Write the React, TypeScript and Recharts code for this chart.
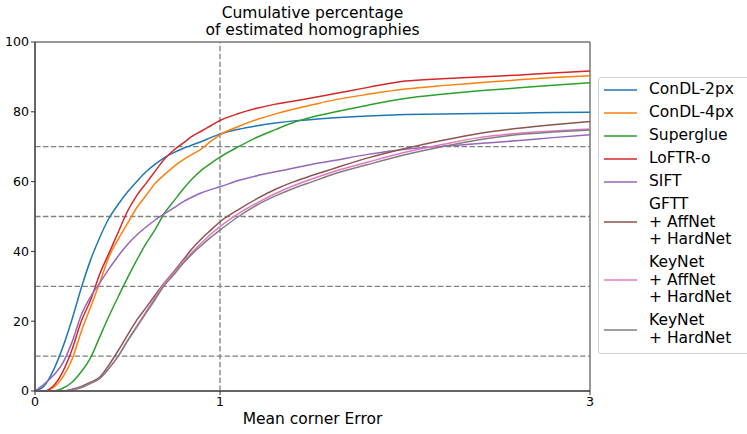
import React from 'react';
import { LineChart, Line, XAxis, YAxis, ReferenceLine, ReferenceArea } from 'recharts';

// mean corner error (x grid the curves were read at)
const ERR = [0, 0.05, 0.1, 0.15, 0.2, 0.25, 0.3, 0.35, 0.4, 0.45, 0.5, 0.55, 0.6, 0.65, 0.7, 0.75, 0.8, 0.85, 0.9, 0.95, 1.0, 1.1, 1.2, 1.3, 1.4, 1.5, 1.6, 1.8, 2.0, 2.2, 2.4, 2.6, 2.8, 3.0];

// cumulative % of homographies per method
const CONDL_2PX = [0, 1.5, 6, 12.5, 20.5, 29.5, 37.5, 44, 49.5, 53.5, 57, 60, 62.8, 65, 66.9, 68.3, 69.5, 70.5, 71.5, 72.6, 73.6, 75, 76, 76.8, 77.4, 77.8, 78.2, 78.8, 79.2, 79.4, 79.5, 79.6, 79.8, 79.9];
const CONDL_4PX = [0, 0, 1, 4, 9, 17, 24, 31, 38.5, 43.5, 48, 52.5, 56, 59.5, 62, 64.3, 66.2, 67.8, 69.4, 71.5, 73.4, 75.8, 77.8, 79.4, 80.8, 82, 83.2, 85, 86.5, 87.5, 88.3, 89.1, 89.8, 90.3];
const SUPERGLUE = [0, 0, 0, 0.8, 2.5, 5.5, 9.5, 15.5, 21.5, 27, 32.4, 37.5, 42.2, 46.3, 51, 54.4, 57.8, 60.8, 63.3, 65.2, 67, 70, 72.7, 74.9, 77, 78.5, 79.7, 81.9, 83.8, 85, 86, 86.8, 87.6, 88.3];
const LOFTR_O = [0, 0, 1.5, 5.5, 11.8, 20, 26, 33.5, 39.5, 45.5, 51.5, 56, 59.5, 63, 66.5, 69, 71, 73, 74.5, 76, 77.5, 79.5, 81, 82.2, 83.1, 84, 85, 87, 88.8, 89.5, 90, 90.5, 91.1, 91.7];
const SIFT = [0, 2, 4.5, 8, 14, 21.8, 27, 31, 35, 38.7, 42, 44.7, 47, 49, 50.8, 52.5, 54.2, 55.6, 56.8, 57.7, 58.5, 60.3, 61.7, 62.8, 63.9, 65, 65.9, 67.8, 69.3, 70.1, 70.9, 71.7, 72.6, 73.4];
const GFTT_AFF_HARD = [0, 0, 0, 0, 0.5, 1.3, 2.5, 4, 7.5, 11.6, 16, 20.3, 23.9, 27.5, 31, 34.2, 37.5, 40.8, 43.6, 46.1, 48.5, 52, 55.1, 57.8, 60, 61.8, 63.5, 66.8, 69.5, 71.8, 73.8, 75.2, 76.3, 77.2];
const KEYNET_AFF_HARD = [0, 0, 0, 0, 0.3, 1, 2.2, 3.6, 6.5, 10, 14.5, 18.6, 22.7, 26.8, 30.8, 33.8, 37, 39.8, 42.4, 44.9, 47.1, 50.8, 53.9, 56.6, 58.9, 60.8, 62.6, 65.6, 68.4, 70.6, 72.6, 73.8, 74.5, 75.1];
const KEYNET_HARD = [0, 0, 0, 0, 0.3, 1, 2.2, 3.6, 6.5, 10, 14.3, 18.3, 22.3, 26.3, 30.3, 33.3, 36.5, 39.3, 41.7, 44, 46.1, 50, 53.3, 55.9, 58.1, 60, 61.9, 64.9, 67.7, 70, 72, 73.4, 74.2, 74.8];

const SERIES = [
  { key: 'condl2', name: 'ConDL-2px', color: '#1f77b4', values: CONDL_2PX },
  { key: 'condl4', name: 'ConDL-4px', color: '#ff7f0e', values: CONDL_4PX },
  { key: 'superglue', name: 'Superglue', color: '#2ca02c', values: SUPERGLUE },
  { key: 'loftr', name: 'LoFTR-o', color: '#d62728', values: LOFTR_O },
  { key: 'sift', name: 'SIFT', color: '#9467bd', values: SIFT },
  { key: 'gftt', name: 'GFTT\n+ AffNet\n+ HardNet', color: '#8c564b', values: GFTT_AFF_HARD },
  { key: 'keyaff', name: 'KeyNet\n+ AffNet\n+ HardNet', color: '#e377c2', values: KEYNET_AFF_HARD },
  { key: 'keyhard', name: 'KeyNet\n+ HardNet', color: '#7f7f7f', values: KEYNET_HARD },
];

const Y_TICKS = [0, 20, 40, 60, 80, 100];
const X_TICKS = [0, 1, 3];
const H_GUIDES = [10, 30, 50, 70];

const rows = ERR.map((x, i) => {
  const r: Record<string, number> = { x };
  SERIES.forEach((s) => { r[s.key] = s.values[i]; });
  return r;
});

const FONT = '"DejaVu Sans", sans-serif';
const DASH = '5.5 2.4';
const SPINE = '#333';

export default function App() {
  return (
    <div style={{ position: 'absolute', left: 0, top: 0, width: 747, height: 434, background: '#fff', fontFamily: FONT, overflow: 'hidden' }}>
      {/* title */}
      <div style={{ position: 'absolute', left: 35, top: 4.5, width: 555, textAlign: 'center', fontSize: 15.5, lineHeight: '17.5px', color: '#000' }}>
        Cumulative percentage<br />of estimated homographies
      </div>

      <LineChart width={747} height={434} data={rows} margin={{ top: 42, right: 157, left: 0, bottom: 0 }}>
        <XAxis
          dataKey="x"
          type="number"
          domain={[0, 3]}
          ticks={X_TICKS}
          height={43}
          tickSize={4}
          tickMargin={2}
          stroke={SPINE}
          tick={{ fill: '#000', fontSize: 12.6, fontFamily: FONT }}
          label={{ value: 'Mean corner Error', position: 'insideBottom', offset: 10, fill: '#000', fontSize: 15.5, fontFamily: FONT }}
        />
        <YAxis
          type="number"
          domain={[0, 100]}
          ticks={Y_TICKS}
          width={35}
          tickSize={4}
          tickMargin={2}
          stroke={SPINE}
          tick={{ fill: '#000', fontSize: 12.6, fontFamily: FONT }}
        />
        <ReferenceArea x1={0} x2={3} y1={0} y2={100} fill="none" stroke={SPINE} strokeWidth={1} />
        {H_GUIDES.map((v) => (
          <ReferenceLine key={v} y={v} stroke="#808080" strokeWidth={1.3} strokeDasharray={DASH} />
        ))}
        <ReferenceLine x={1} stroke="#808080" strokeWidth={1.3} strokeDasharray={DASH} />
        {SERIES.map((s) => (
          <Line key={s.key} dataKey={s.key} name={s.name} stroke={s.color} strokeWidth={1.5} dot={false} type="monotone" isAnimationActive={false} />
        ))}
      </LineChart>

      {/* legend */}
      <div style={{ position: 'absolute', left: 598, top: 77, width: 170, height: 277, boxSizing: 'border-box', border: '1px solid #d0d0d0', borderRadius: 3, padding: '3px 0 0 5px', background: '#fff' }}>
        {SERIES.map((s) => (
          <div key={s.key} style={{ display: 'flex', alignItems: 'center', marginBottom: 5.5 }}>
            <svg width={33} height={4} style={{ marginRight: 12, display: 'block' }}>
              <line x1={0} y1={2} x2={33} y2={2} stroke={s.color} strokeWidth={1.5} />
            </svg>
            <div style={{ whiteSpace: 'pre-line', fontSize: 15.5, lineHeight: '17.5px', color: '#000' }}>{s.name}</div>
          </div>
        ))}
      </div>
    </div>
  );
}
